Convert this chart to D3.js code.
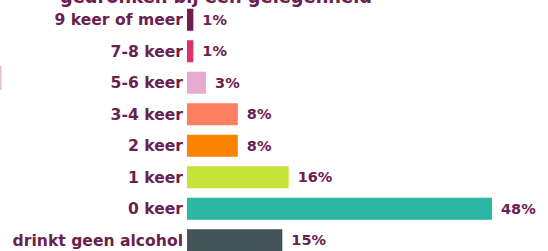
<!DOCTYPE html>
<html lang="nl">
<head>
  <meta charset="UTF-8">
  <title>keer gedronken</title>
  <style>
    body { margin: 0; background: #fff; }
    svg text { font-family: "DejaVu Sans", sans-serif; font-weight: 700; fill: #6b2150; }
  </style>
</head>
<body>

  <script src="https://cdn.jsdelivr.net/npm/d3@7/dist/d3.min.js" charset="utf-8"></script>
  <script>
  var categories = ['9 keer of meer', '7-8 keer', '5-6 keer', '3-4 keer', '2 keer', '1 keer', '0 keer', 'drinkt geen alcohol'];
  var values = [1, 1, 3, 8, 8, 16, 48, 15];
  var valueLabels = ['1%', '1%', '3%', '8%', '8%', '16%', '48%', '15%'];
  var colors = ['#6b1f4a', '#e0306c', '#e8aacf', '#fb8062', '#fb8500', '#c6e33a', '#2bb7a4', '#45545a'];
  var title = 'gedronken bij een gelegenheid';

  var w = 548,
      h = 251;

  var svg = d3.select('body').append('svg')
    .attr('width', w)
    .attr('height', h);

  var x = d3.scaleLinear()
    .domain([0, 48])
    .range([187, 492]);

  var y = d3.scaleBand()
    .domain(categories)
    .range([4, 256])
    .paddingInner(0.3)
    .paddingOuter(0.15);

  // kop valt grotendeels buiten beeld
  svg.append('text')
    .attr('x', 60)
    .attr('y', 3)
    .attr('textLength', 312)
    .attr('lengthAdjust', 'spacingAndGlyphs')
    .style('font-size', '19px')
    .text(title);

  // losse roze streep links
  svg.append('rect')
    .attr('x', 0)
    .attr('y', 66)
    .attr('width', 1.5)
    .attr('height', 24)
    .attr('fill', '#e6bcd4');

  var rows = svg.selectAll('g.row')
    .data(categories)
    .enter()
    .append('g')
    .attr('class', 'row');

  rows.append('rect')
    .attr('x', x(0))
    .attr('y', function (d) { return y(d); })
    .attr('height', y.bandwidth())
    .attr('width', function (d, i) { return Math.max(6, x(values[i]) - x(0)); })
    .attr('fill', function (d, i) { return colors[i]; });

  rows.append('text')
    .attr('x', 183)
    .attr('y', function (d) { return y(d) + y.bandwidth() / 2; })
    .attr('dy', '0.36em')
    .attr('text-anchor', 'end')
    .style('font-size', '15.6px')
    .text(function (d) { return d; });

  rows.append('text')
    .attr('x', function (d, i) { return x(0) + Math.max(6, x(values[i]) - x(0)) + 9; })
    .attr('y', function (d) { return y(d) + y.bandwidth() / 2; })
    .attr('dy', '0.36em')
    .style('font-size', '14.5px')
    .text(function (d, i) { return valueLabels[i]; });
  </script>
</body>
</html>
